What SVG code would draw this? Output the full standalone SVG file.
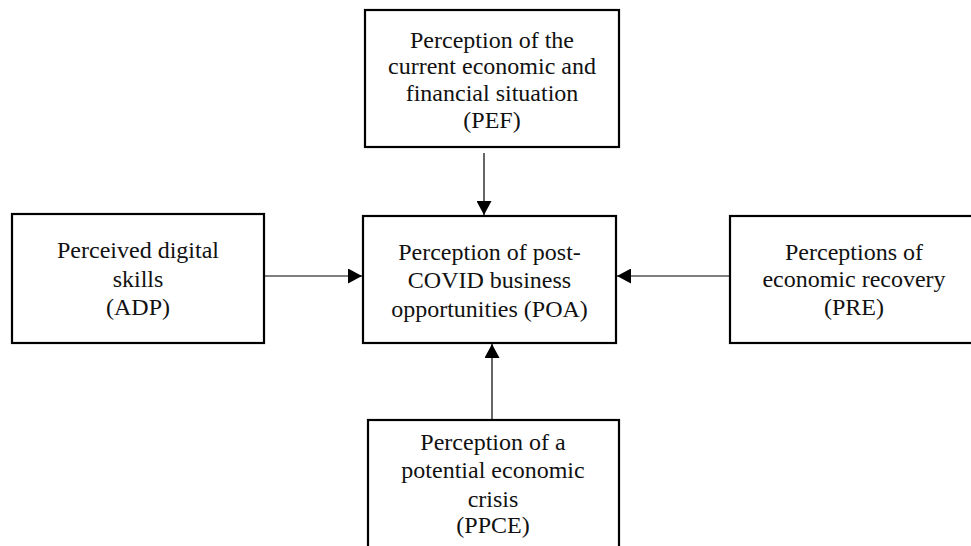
<svg xmlns="http://www.w3.org/2000/svg" width="971" height="546" viewBox="0 0 971 546">
<style>
.box{fill:#fff;stroke:#000;stroke-width:2.2}
.t{font-family:'Liberation Serif','Times New Roman',Times,'DejaVu Serif',serif;font-size:24px;fill:#111;text-anchor:middle}
.c{stroke:#000;stroke-width:1.2;fill:none}
</style>
<defs>
<marker id="ah" markerWidth="14" markerHeight="15" refX="14" refY="7.5" orient="auto" markerUnits="userSpaceOnUse">
<path d="M0,0 L14,7.5 L0,15 Z" fill="#000"/>
</marker>
</defs>
<rect width="971" height="546" fill="#fff"/>
<g id="PEF">
<rect class="box" x="365" y="10" width="254" height="137"/>
<text class="t" x="492" y="48">Perception of the</text>
<text class="t" x="492" y="74">current economic and</text>
<text class="t" x="492" y="101">financial situation</text>
<text class="t" x="492" y="128">(PEF)</text>
</g>
<g id="POA">
<rect class="box" x="363" y="216" width="253" height="127"/>
<text class="t" x="489.5" y="260">Perception of post-</text>
<text class="t" x="489.5" y="288">COVID business</text>
<text class="t" x="489.5" y="317">opportunities (POA)</text>
</g>
<g id="ADP">
<rect class="box" x="12" y="214" width="252" height="129"/>
<text class="t" x="138" y="258">Perceived digital</text>
<text class="t" x="138" y="287">skills</text>
<text class="t" x="138" y="315">(ADP)</text>
</g>
<g id="PRE">
<rect class="box" x="730" y="216" width="260" height="127"/>
<text class="t" x="854" y="260">Perceptions of</text>
<text class="t" x="854" y="287">economic recovery</text>
<text class="t" x="854" y="315">(PRE)</text>
</g>
<g id="PPCE">
<rect class="box" x="368" y="420" width="251" height="140"/>
<text class="t" x="493" y="450">Perception of a</text>
<text class="t" x="493" y="478">potential economic</text>
<text class="t" x="493" y="507">crisis</text>
<text class="t" x="493" y="533">(PPCE)</text>
</g>
<g id="connectors">
<line class="c" x1="484" y1="153" x2="484" y2="215" marker-end="url(#ah)"/>
<line class="c" x1="264" y1="276" x2="362" y2="276" marker-end="url(#ah)"/>
<line class="c" x1="730" y1="276" x2="617" y2="276" marker-end="url(#ah)"/>
<line class="c" x1="492" y1="420" x2="492" y2="344" marker-end="url(#ah)"/>
</g>
</svg>
